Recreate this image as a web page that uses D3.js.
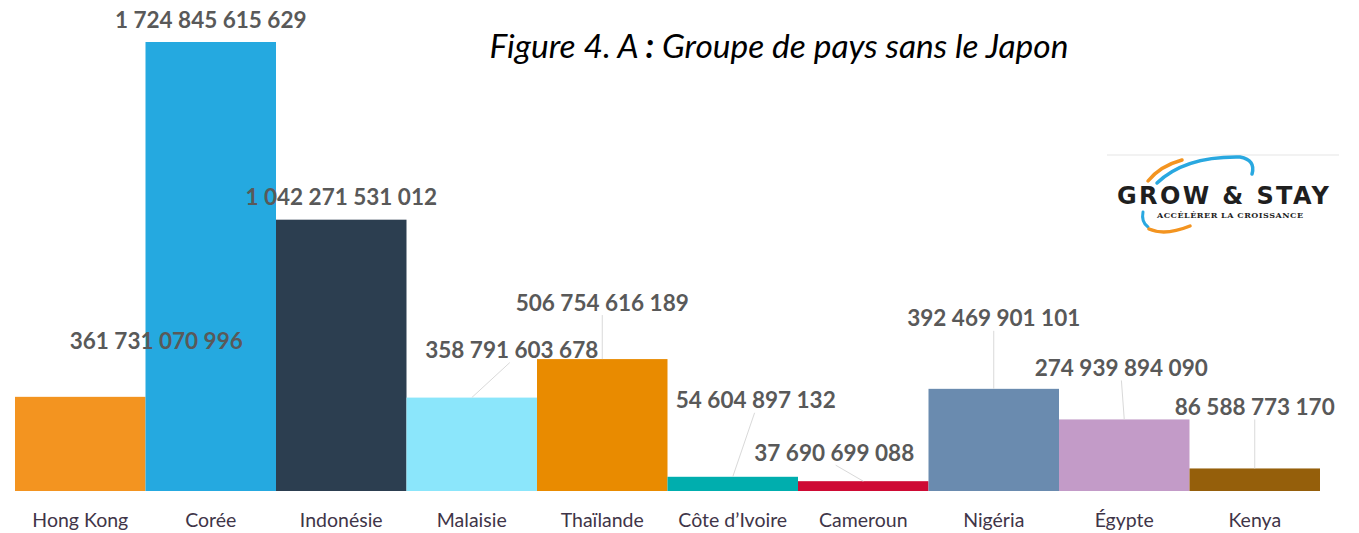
<!DOCTYPE html>
<html>
<head>
<meta charset="utf-8">
<script src="https://cdnjs.cloudflare.com/ajax/libs/d3/7.8.5/d3.min.js"></script>
<style>
  body { margin: 0; background: #fff; }
  svg { display: block; }
</style>
</head>
<body>
<div id="chart"></div>
<script>
// pays et valeurs
var pays = ["Hong Kong", "Corée", "Indonésie", "Malaisie", "Thaïlande", "Côte d\u2019Ivoire", "Cameroun", "Nigéria", "Égypte", "Kenya"];
var valeurs = [361731070996, 1724845615629, 1042271531012, 358791603678, 506754616189, 54604897132, 37690699088, 392469901101, 274939894090, 86588773170];
var couleurs = ["#F39420", "#25A9E0", "#2C3E50", "#8BE6FB", "#E98B00", "#00AEAE", "#CE0A34", "#6A8BAF", "#C39BC8", "#955F0B"];

// décalage des étiquettes (comme dans Excel, déplacées à la main)
var etiqDx = [76, 0, 0, 40, 0, 23, -29, 0, -3, 0];
var etiqDy = [-56, -23, -23, -48, -57, -77, -29, -71, -52, -62];

var width = 1359, height = 533;
var margin = { left: 15, right: 39, top: 42, bottom: 42 };

var svg = d3.select("#chart").append("svg")
  .attr("width", width)
  .attr("height", height);

var x = d3.scaleBand()
  .domain(pays)
  .range([margin.left, width - margin.right])
  .padding(0);

var y = d3.scaleLinear()
  .domain([0, d3.max(valeurs)])
  .range([height - margin.bottom, margin.top]);

var fmt = function (v) {
  return d3.format(",d")(v).replace(/,/g, " ");
};

var data = pays.map(function (p, i) {
  return { pays: p, val: valeurs[i], col: couleurs[i], dx: etiqDx[i], dy: etiqDy[i] };
});

// barres
svg.append("g").selectAll("rect")
  .data(data)
  .enter().append("rect")
  .attr("x", function (d) { return x(d.pays); })
  .attr("y", function (d) { return y(d.val); })
  .attr("width", x.bandwidth())
  .attr("height", function (d) { return y(0) - y(d.val); })
  .attr("fill", function (d) { return d.col; });

// lignes de rappel
svg.append("g").selectAll("line")
  .data(data.filter(function (d, i) { return i >= 3; }))
  .enter().append("line")
  .attr("x1", function (d) { return x(d.pays) + x.bandwidth() / 2; })
  .attr("y1", function (d) { return y(d.val); })
  .attr("x2", function (d) { return x(d.pays) + x.bandwidth() / 2 + d.dx * 0.95; })
  .attr("y2", function (d) { return y(d.val) + d.dy + 13; })
  .attr("stroke", "#d9d9d9")
  .attr("stroke-width", 1);

// étiquettes de données
svg.append("g").selectAll("text")
  .data(data)
  .enter().append("text")
  .attr("x", function (d) { return x(d.pays) + x.bandwidth() / 2 + d.dx; })
  .attr("y", function (d) { return y(d.val) + d.dy; })
  .attr("text-anchor", "middle")
  .attr("dominant-baseline", "central")
  .attr("font-family", "Lato, 'Open Sans', sans-serif")
  .attr("font-weight", "bold")
  .attr("font-size", "22.5px")
  .attr("fill", "#595959")
  .text(function (d) { return fmt(d.val); });

// axe des catégories
var axeX = svg.append("g")
  .attr("transform", "translate(0," + (height - margin.bottom) + ")")
  .call(d3.axisBottom(x).tickSize(0).tickPadding(22));
axeX.select(".domain").remove();
axeX.selectAll("text")
  .attr("font-family", "Lato, 'Open Sans', sans-serif")
  .attr("font-size", "19.5px")
  .attr("fill", "#3F3548");

// titre
svg.append("text")
  .attr("x", 779)
  .attr("y", 58)
  .attr("text-anchor", "middle")
  .attr("font-family", "Lato, 'Open Sans', sans-serif")
  .attr("font-style", "italic")
  .attr("font-size", "33.5px")
  .attr("fill", "#000")
  .html("Figure 4. A <tspan font-weight='bold'>:</tspan> Groupe de pays sans le Japon");

// logo Grow & Stay
var logo = svg.append("g");
logo.append("line")
  .attr("x1", 1107).attr("x2", 1339)
  .attr("y1", 155).attr("y2", 155)
  .attr("stroke", "#eeeeee").attr("stroke-width", 1.5);
logo.append("path")
  .attr("d", "M1157,183 Q1185,156 1240,157 Q1256,160 1252,174")
  .attr("fill", "none").attr("stroke", "#29A8E0").attr("stroke-width", 3.5)
  .attr("stroke-linecap", "round");
logo.append("path")
  .attr("d", "M1148,181 Q1160,166 1182,160")
  .attr("fill", "none").attr("stroke", "#F39420").attr("stroke-width", 3.5)
  .attr("stroke-linecap", "round");
logo.append("path")
  .attr("d", "M1143,212 Q1141,222 1148,227")
  .attr("fill", "none").attr("stroke", "#29A8E0").attr("stroke-width", 3)
  .attr("stroke-linecap", "round");
logo.append("path")
  .attr("d", "M1149,229 Q1165,236 1190,226")
  .attr("fill", "none").attr("stroke", "#F39420").attr("stroke-width", 3.5)
  .attr("stroke-linecap", "round");
logo.append("text")
  .attr("x", 1223).attr("y", 204)
  .attr("text-anchor", "middle")
  .attr("font-family", "'DejaVu Sans', sans-serif")
  .attr("font-weight", "bold")
  .attr("font-size", "24px")
  .attr("textLength", 212)
  .attr("fill", "#1f1f1f")
  .text("GROW & STAY");
logo.append("text")
  .attr("x", 1230).attr("y", 218)
  .attr("text-anchor", "middle")
  .attr("font-family", "'DejaVu Serif', serif")
  .attr("font-weight", "bold")
  .attr("font-size", "8px")
  .attr("textLength", 146)
  .attr("fill", "#1f1f1f")
  .text("ACCÉLÉRER LA CROISSANCE");
</script>
</body>
</html>
